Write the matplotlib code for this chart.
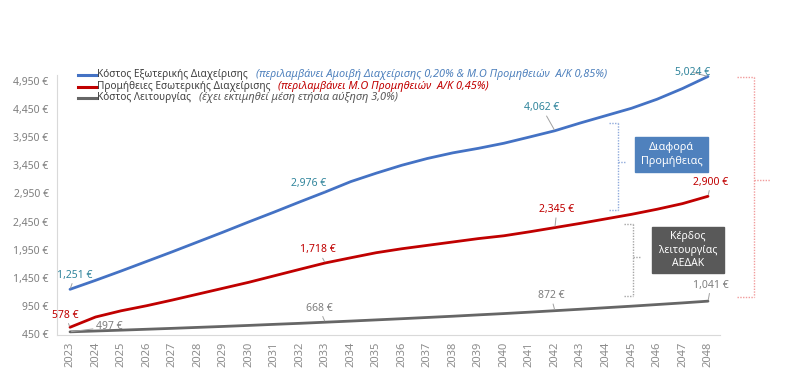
import matplotlib.pyplot as plt
from matplotlib.lines import Line2D
from matplotlib.patches import Rectangle

plt.rcParams['font.family'] = ['Noto Sans', 'DejaVu Sans']

years = list(range(2023, 2049))

# Κόστος Εξωτερικής Διαχείρισης
external_cost = [1251, 1410, 1575, 1745, 1915, 2090, 2265, 2445, 2620, 2800,
                 2976, 3160, 3310, 3450, 3570, 3670, 3750, 3840, 3950, 4062,
                 4200, 4330, 4460, 4620, 4810, 5024]
# Προμήθειες Εσωτερικής Διαχείρισης
internal_fees = [578, 760, 870, 960, 1060, 1165, 1270, 1375, 1490, 1605,
                 1718, 1810, 1900, 1970, 2030, 2090, 2150, 2200, 2270, 2345,
                 2420, 2500, 2580, 2670, 2770, 2900]
# Κόστος Λειτουργίας
operating_cost = [497, 512, 527, 543, 559, 576, 593, 611, 630, 648,
                  668, 688, 709, 730, 752, 774, 798, 821, 846, 872,
                  898, 925, 952, 981, 1010, 1041]

label_years = [2023, 2033, 2042, 2048]
yticks = list(range(450, 5000, 500))

legend_main = ['Κόστος Εξωτερικής Διαχείρισης',
               'Προμήθειες Εσωτερικής Διαχείρισης',
               'Κόστος Λειτουργίας']
legend_note = ['(περιλαμβάνει Αμοιβή Διαχείρισης 0,20% & Μ.Ο Προμηθειών  Α/Κ 0,85%)',
               '(περιλαμβάνει Μ.Ο Προμηθειών  Α/Κ 0,45%)',
               '(έχει εκτιμηθεί μέση ετήσια αύξηση 3,0%)']

BLUE = '#4472C4'
RED = '#C00000'
GRAY = '#7F7F7F'

W, H = 800, 375
fig = plt.figure(figsize=(8, 3.75), dpi=100)
ax = fig.add_axes([57 / W, 1 - 334.5 / H, 663 / W, 259.5 / H])


def fx(px):
    return px / W


def fy(py):
    return 1 - py / H


ax.plot(years, operating_cost, color='#666666', lw=2.0, solid_capstyle='round')
ax.plot(years, internal_fees, color=RED, lw=2.0, solid_capstyle='round')
ax.plot(years, external_cost, color=BLUE, lw=2.0, solid_capstyle='round')

ax.set_xlim(2022.49, 2048.47)
ax.set_ylim(450, 5050)
ax.set_xticks(years)
ax.set_xticklabels([str(y) for y in years], rotation=90)
ax.set_yticks(yticks)
ax.set_yticklabels([f'{v:,} €' for v in yticks])
ax.tick_params(length=0, labelsize=7.5, labelcolor=GRAY, pad=6)
ax.tick_params(axis='x', labelsize=8, pad=5, labelcolor='#8C8C8C')
for s in ['top', 'right']:
    ax.spines[s].set_visible(False)
for s in ['left', 'bottom']:
    ax.spines[s].set_color('#D9D9D9')

# data labels (offsets in pixels)
offsets = {
    'blue': [(5, 14), (-17, 9), (-13, 23), (-15, 4)],
    'red': [(-5, 12), (-7, 13), (2, 18), (3, 14)],
    'gray': [(39, 5), (-6, 14), (-4, 15), (3, 16)],
}
series = [('blue', external_cost, '#31859C'),
          ('red', internal_fees, RED),
          ('gray', operating_cost, GRAY)]
for key, vals, col in series:
    for yr, off in zip(label_years, offsets[key]):
        v = vals[years.index(yr)]
        ax.annotate(f'{v:,} €', xy=(yr, v), xytext=off, textcoords='offset pixels',
                    ha='center', va='center', fontsize=7.5, color=col,
                    arrowprops=dict(arrowstyle='-', color='#A0A0A0', lw=0.7,
                                    shrinkA=0, shrinkB=1))

# legend drawn by hand
note_colors = ['#4F81BD', RED, '#595959']
line_colors = [BLUE, RED, '#666666']
rows = [74.7, 86.7, 97.6]
fig.canvas.draw()
renderer = fig.canvas.get_renderer()
for main, note, lc, nc, ry in zip(legend_main, legend_note, line_colors, note_colors, rows):
    fig.add_artist(Line2D([fx(78), fx(97)], [fy(ry), fy(ry)], color=lc, lw=2.2,
                          transform=fig.transFigure))
    t = fig.text(fx(97), fy(ry), main, fontsize=7.25, color='#404040', va='center')
    bb = t.get_window_extent(renderer)
    fig.text(bb.x1 / W + fx(8), fy(ry), note, fontsize=7.9, color=nc,
             style='italic', va='center')

# annotation boxes
fig.add_artist(Rectangle((fx(635), fy(172)), 73 / W, 35 / H, color='#4F81BD',
                         transform=fig.transFigure))
fig.text(fx(671.5), fy(154.5), 'Διαφορά\nΠρομήθειας', color='white', fontsize=7.8,
         ha='center', va='center', linespacing=1.4)
fig.add_artist(Rectangle((fx(652), fy(273)), 72 / W, 46 / H, color='#595959',
                         transform=fig.transFigure))
fig.text(fx(688), fy(250), 'Κέρδος\nλειτουργίας\nΑΕΔΑΚ', color='white', fontsize=7.5,
         ha='center', va='center', linespacing=1.35)


def bracket(x_in, x, y0, y1, ym, x_out, col):
    pts = [([x_in, x], [y0, y0]), ([x, x], [y0, y1]), ([x_in, x], [y1, y1]),
           ([x, x_out], [ym, ym])]
    for xs, ys in pts:
        fig.add_artist(Line2D([fx(v) for v in xs], [fy(v) for v in ys], color=col,
                              lw=1.0, ls=(0, (1, 1)), transform=fig.transFigure))


bracket(609, 618, 123, 210, 162, 625, '#8FAADC')
bracket(624, 633, 224, 296, 257, 640, '#A6A6A6')
bracket(737, 754, 77, 297, 180, 770, '#F19C9C')

fig.savefig('out.png', dpi=100)
